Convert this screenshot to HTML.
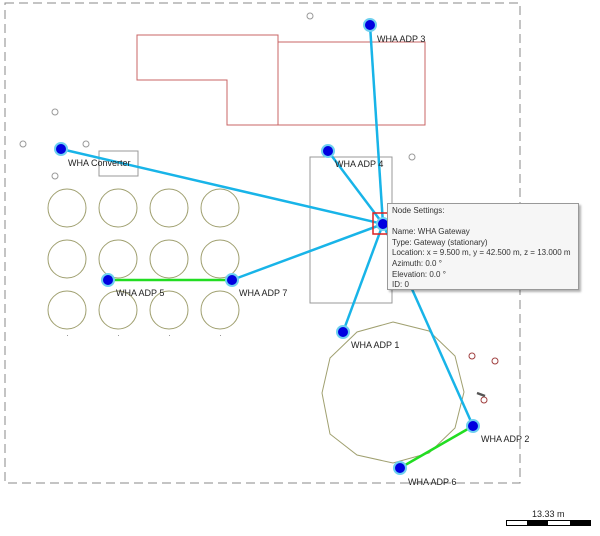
<!DOCTYPE html>
<html><head><meta charset="utf-8"><style>
html,body{margin:0;padding:0;background:#fff;width:600px;height:536px;overflow:hidden}
svg{position:absolute;left:0;top:0}
text{font-family:"Liberation Sans",sans-serif;font-size:9px;fill:#222}
.tip{position:absolute;left:387px;top:203px;width:192px;height:87px;background:#f6f6f6;border:1px solid #999;box-shadow:2px 2px 2px rgba(0,0,0,.3);font-family:"Liberation Sans",sans-serif;font-size:8px;color:#333;line-height:10.6px;padding:2px 0 0 4px;box-sizing:border-box;white-space:nowrap;overflow:hidden}
</style></head><body>
<svg width="600" height="536" viewBox="0 0 600 536">
<rect x="5" y="3" width="515" height="480" fill="none" stroke="#888" stroke-width="1" stroke-dasharray="9,5"/>
<g fill="none" stroke="#c86464" stroke-width="1">
<polygon points="137,35 278,35 278,42 425,42 425,125 227,125 227,80 137,80"/>
<line x1="278" y1="42" x2="278" y2="125"/>
</g>
<rect x="310" y="157" width="82" height="146" fill="none" stroke="#999"/>
<rect x="99" y="151" width="39" height="25" fill="none" stroke="#999"/>
<g fill="none" stroke="#a0a070" stroke-width="1">
<circle cx="67" cy="208" r="19"/><circle cx="118" cy="208" r="19"/><circle cx="169" cy="208" r="19"/><circle cx="220" cy="208" r="19"/>
<circle cx="67" cy="259" r="19"/><circle cx="118" cy="259" r="19"/><circle cx="169" cy="259" r="19"/><circle cx="220" cy="259" r="19"/>
<circle cx="67" cy="310" r="19"/><circle cx="118" cy="310" r="19"/><circle cx="169" cy="310" r="19"/><circle cx="220" cy="310" r="19"/>
<polygon points="393,322 429,331 455,356 464,392 455,428 429,453 393,463 357,455 330,434 322,393 330,358 357,332"/>
</g>
<g fill="none" stroke="#999"><circle cx="310" cy="16" r="3"/><circle cx="55" cy="112" r="3"/><circle cx="23" cy="144" r="3"/><circle cx="86" cy="144" r="3"/><circle cx="55" cy="176" r="3"/><circle cx="412" cy="157" r="3"/></g>
<g fill="none" stroke="#a04040"><circle cx="472" cy="356" r="3"/><circle cx="495" cy="361" r="3"/><circle cx="484" cy="400" r="3"/></g>
<line x1="477" y1="393" x2="485" y2="396" stroke="#555" stroke-width="2.5"/>
<g stroke="#18b4e8" stroke-width="2.5">
<line x1="383" y1="224" x2="370" y2="25"/><line x1="383" y1="224" x2="328" y2="151"/>
<line x1="383" y1="224" x2="61" y2="149"/><line x1="383" y1="224" x2="232" y2="280"/>
<line x1="383" y1="224" x2="343" y2="332"/><line x1="383" y1="224" x2="473" y2="426"/>
</g>
<g stroke="#22dd22" stroke-width="2.5"><line x1="108" y1="280" x2="232" y2="280"/><line x1="473" y1="426" x2="400" y2="468"/></g>
<rect x="373" y="213" width="17" height="21" fill="none" stroke="#dd2020" stroke-width="1.5"/>
<g fill="#0000e0" stroke="#6fd0f0" stroke-width="2">
<circle cx="370" cy="25" r="6"/><circle cx="328" cy="151" r="6"/><circle cx="61" cy="149" r="6"/><circle cx="108" cy="280" r="6"/><circle cx="232" cy="280" r="6"/><circle cx="343" cy="332" r="6"/><circle cx="473" cy="426" r="6"/><circle cx="400" cy="468" r="6"/><circle cx="383" cy="224" r="6"/>
</g>
<text x="377" y="42">WHA ADP 3</text>
<text x="335" y="167">WHA ADP 4</text>
<text x="68" y="166">WHA Converter</text>
<text x="116" y="296">WHA ADP 5</text>
<text x="239" y="296">WHA ADP 7</text>
<text x="351" y="348">WHA ADP 1</text>
<text x="481" y="442">WHA ADP 2</text>
<text x="408" y="485">WHA ADP 6</text>
<g fill="#999"><rect x="67" y="335" width="1" height="1"/><rect x="118" y="335" width="1" height="1"/><rect x="169" y="335" width="1" height="1"/><rect x="220" y="335" width="1" height="1"/></g>
<rect x="506.5" y="520.5" width="84" height="5" fill="#fff" stroke="#000"/>
<rect x="527" y="520" width="21" height="6" fill="#000"/><rect x="570" y="520" width="21" height="6" fill="#000"/>
<text x="532" y="517">13.33 m</text>
</svg>
<div class="tip">Node Settings:<br><br>Name: WHA Gateway<br>Type: Gateway (stationary)<br>Location: x = 9.500 m, y = 42.500 m, z = 13.000 m<br>Azimuth: 0.0 °<br>Elevation: 0.0 °<br>ID: 0</div>
</body></html>
